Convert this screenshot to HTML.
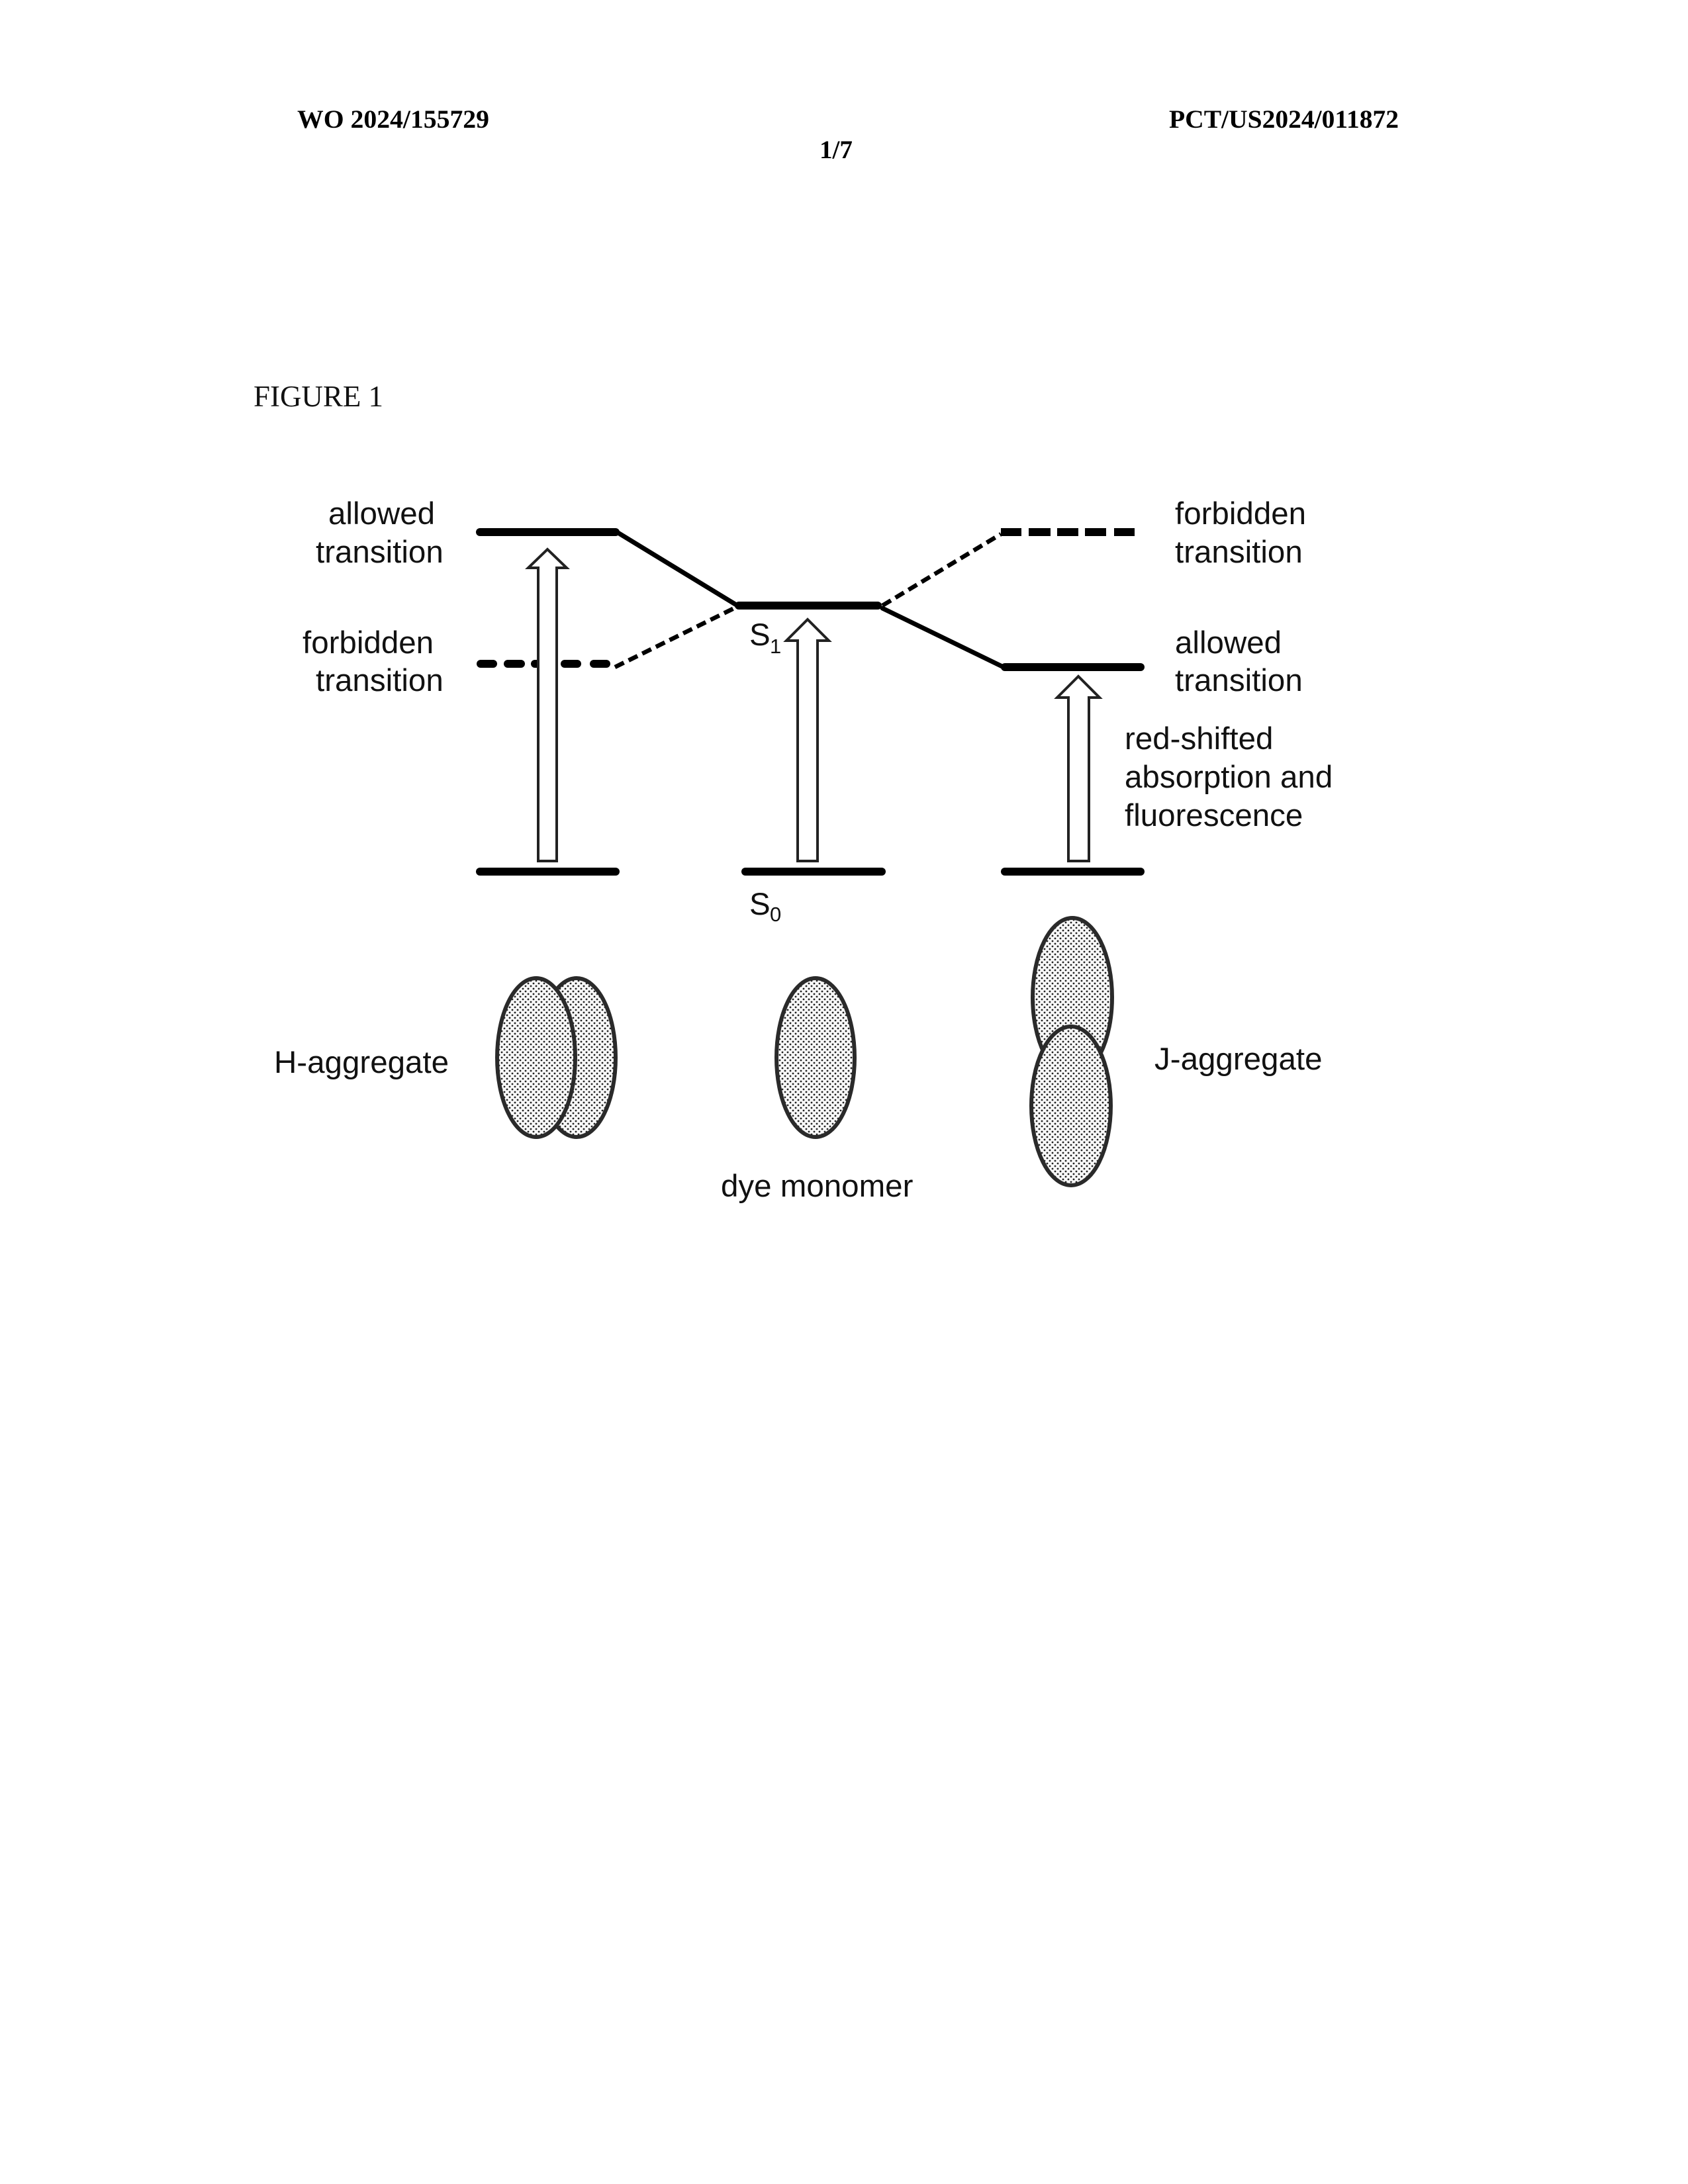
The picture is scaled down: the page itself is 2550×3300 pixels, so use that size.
<!DOCTYPE html>
<html>
<head>
<meta charset="utf-8">
<style>
html,body{margin:0;padding:0;background:#fff;width:2550px;height:3300px;overflow:hidden}
svg{display:block}
.s{font-family:"Liberation Sans",sans-serif;font-size:47.5px;fill:#111}
.h{font-family:"Liberation Serif",serif;font-weight:bold;font-size:39px;fill:#000}
.sub{font-family:"Liberation Sans",sans-serif;font-size:31px;fill:#111}
</style>
</head>
<body>
<svg width="2550" height="3300" viewBox="0 0 2550 3300" xmlns="http://www.w3.org/2000/svg">
<defs>
<pattern id="dots" width="8" height="8" patternUnits="userSpaceOnUse">
<rect width="8" height="8" fill="#f8f8f8"/>
<circle cx="2" cy="2" r="1.4" fill="#222"/>
<circle cx="6" cy="6" r="1.4" fill="#222"/>
</pattern>
</defs>
<rect width="2550" height="3300" fill="#fff"/>

<text class="h" x="449" y="193" textLength="290" lengthAdjust="spacingAndGlyphs">WO 2024/155729</text>
<text class="h" x="1766" y="193" textLength="347" lengthAdjust="spacingAndGlyphs">PCT/US2024/011872</text>
<text class="h" x="1238" y="239" textLength="50" lengthAdjust="spacingAndGlyphs">1/7</text>
<text x="383" y="614" textLength="196" lengthAdjust="spacingAndGlyphs" style="font-family:'Liberation Serif',serif;font-size:45px;fill:#111">FIGURE 1</text>

<!-- solid levels -->
<g stroke="#000" stroke-width="12" stroke-linecap="round" fill="none">
<line x1="725" y1="804" x2="930" y2="804"/>
<line x1="1116" y1="915" x2="1326" y2="915"/>
<line x1="1518" y1="1008" x2="1723" y2="1008"/>
<line x1="725" y1="1317" x2="930" y2="1317"/>
<line x1="1126" y1="1317" x2="1332" y2="1317"/>
<line x1="1518" y1="1317" x2="1723" y2="1317"/>
</g>
<g stroke="#000" stroke-width="7" stroke-linecap="round" fill="none">
<line x1="932" y1="804" x2="1114" y2="915"/>
<line x1="1333" y1="919" x2="1516" y2="1008"/>
</g>
<!-- dashed levels -->
<g stroke="#000" stroke-width="12" stroke-linecap="round" fill="none">
<line x1="726" y1="1003" x2="745" y2="1003"/>
<line x1="767" y1="1003" x2="787" y2="1003"/>
<line x1="808" y1="1003" x2="812" y2="1003"/>
<line x1="853" y1="1003" x2="872" y2="1003"/>
<line x1="897" y1="1003" x2="916" y2="1003"/>
</g>
<g stroke="#000" stroke-width="12" fill="none">
<line x1="1512" y1="804" x2="1543" y2="804"/>
<line x1="1554" y1="804" x2="1587" y2="804"/>
<line x1="1597" y1="804" x2="1629" y2="804"/>
<line x1="1639" y1="804" x2="1671" y2="804"/>
<line x1="1683" y1="804" x2="1714" y2="804"/>
</g>
<g stroke="#000" stroke-width="6.5" stroke-dasharray="15 8" fill="none">
<line x1="929" y1="1008" x2="1113" y2="917"/>
<line x1="1333" y1="915" x2="1512" y2="807"/>
</g>

<!-- arrows -->
<g fill="#fff" stroke="#222" stroke-width="4" stroke-linejoin="miter">
<path d="M813 1301 V858 H798 L827 830 L856 858 H841 V1301 Z"/>
<path d="M1205 1301 V968 H1188 L1220 936 L1252 968 H1235 V1301 Z"/>
<path d="M1614 1301 V1054 H1597 L1629 1022 L1661 1054 H1645 V1301 Z"/>
</g>

<!-- ellipses -->
<g fill="url(#dots)" stroke="#2a2a2a" stroke-width="6">
<ellipse cx="871" cy="1598" rx="59" ry="120"/>
<ellipse cx="810" cy="1598" rx="59" ry="120"/>
<ellipse cx="1232" cy="1598" rx="59" ry="120"/>
<ellipse cx="1620" cy="1507" rx="60" ry="120"/>
<ellipse cx="1618" cy="1671" rx="60" ry="120"/>
</g>

<!-- labels -->
<text class="s" x="496" y="792">allowed</text>
<text class="s" x="477" y="850">transition</text>
<text class="s" x="457" y="987">forbidden</text>
<text class="s" x="477" y="1044">transition</text>
<text class="s" x="1775" y="792">forbidden</text>
<text class="s" x="1775" y="850">transition</text>
<text class="s" x="1775" y="987">allowed</text>
<text class="s" x="1775" y="1044">transition</text>
<text class="s" x="1699" y="1132">red-shifted</text>
<text class="s" x="1699" y="1190">absorption and</text>
<text class="s" x="1699" y="1248">fluorescence</text>
<text class="s" x="1132" y="975">S</text>
<text class="sub" x="1163" y="987">1</text>
<text class="s" x="1132" y="1382">S</text>
<text class="sub" x="1163" y="1392">0</text>
<text class="s" x="414" y="1621">H-aggregate</text>
<text class="s" x="1744" y="1616">J-aggregate</text>
<text class="s" x="1089" y="1808">dye monomer</text>
</svg>
</body>
</html>
